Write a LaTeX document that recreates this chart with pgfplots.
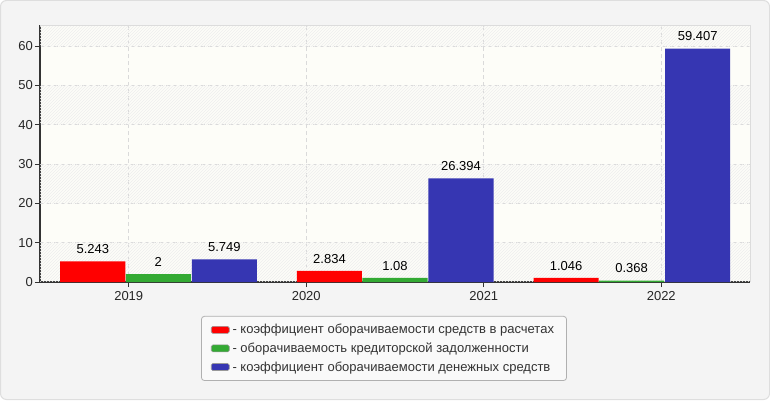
\documentclass[border=0pt]{standalone}
\usepackage{pgfplots}
\pgfplotsset{compat=1.18}
\usepackage{fontspec}
\setmainfont{Liberation Sans}
\usetikzlibrary{patterns}
\definecolor{outerbg}{HTML}{F4F4F4}
\definecolor{outerborder}{HTML}{DEDEDE}
\definecolor{plotbg}{HTML}{FDFDF8}
\definecolor{hatch}{HTML}{EEEEEE}
\definecolor{gridc}{HTML}{DADADA}
\definecolor{axisdark}{HTML}{333333}
\definecolor{axislight}{HTML}{DCDCDC}
\definecolor{cred}{HTML}{FF0000}
\definecolor{cgreen}{HTML}{33AA33}
\definecolor{cblue}{HTML}{3636B2}
\definecolor{legbg}{HTML}{F9F9F9}
\definecolor{legborder}{HTML}{B0B0B0}
\begin{document}
\begin{tikzpicture}[x=1pt,y=1pt]
\useasboundingbox (0,0) rectangle (770,400);
\fill[outerbg, draw=outerborder, line width=1pt, rounded corners=6pt] (0.5,0.5) rectangle (769.5,399.5);
\begin{axis}[
  at={(40pt,118pt)}, anchor=south west,
  width=710pt, height=257pt, scale only axis,
  xmin=-0.5, xmax=2.5, ymin=0, ymax=65.4,
  axis lines=left,
  axis line style={-, draw=axisdark, line width=1.2pt},
  axis background/.style={fill=plotbg},
  xtick={-0.125,0.625,1.375,2.125},
  xticklabels={2019,2020,2021,2022},
  ytick={0,10,20,30,40,50,60},
  tick align=outside,
  major tick length=5pt,
  tick style={draw=axisdark, line width=0.8pt},
  grid=major,
  grid style={dashed, draw=gridc, line width=0.8pt, dash pattern=on 4pt off 3pt},
  ticklabel style={font=\fontsize{13pt}{15pt}\selectfont, text=black!85},
  /pgf/number format/assume math mode=true,
  yticklabel style={inner xsep=2pt},
  xticklabel style={yshift=-1pt},
  clip=false,
  legend style={at={(0.4845,-0.132)}, anchor=north, draw=legborder, fill=legbg,
    rounded corners=3pt, font=\fontsize{13pt}{15pt}\selectfont, text=black!80,
    inner xsep=9.5pt, inner ysep=6pt, row sep=3.5pt, line width=0.8pt,
    nodes={inner xsep=3pt}},
  legend cell align=left,
  legend image code/.code={\draw[#1, draw=gray!80, line width=0.6pt, rounded corners=1.5pt] (0pt,-3.5pt) rectangle (18pt,3.5pt);},
  every node near coord/.append style={font=\fontsize{13pt}{15pt}\selectfont, text=black, yshift=4pt},
]
% background bands
\fill[pattern=north east lines, pattern color=hatch] (axis cs:-0.5,0.2) rectangle (axis cs:2.5,10);
\fill[pattern=north east lines, pattern color=hatch] (axis cs:-0.5,20) rectangle (axis cs:2.5,30);
\fill[pattern=north east lines, pattern color=hatch] (axis cs:-0.5,40) rectangle (axis cs:2.5,50);
\fill[pattern=north east lines, pattern color=hatch] (axis cs:-0.5,60) rectangle (axis cs:2.5,65.4);
\draw[axislight, line width=1pt] (rel axis cs:0,1) -- (rel axis cs:1,1) -- (rel axis cs:1,0);

\addplot[ybar, bar width=0.275, bar shift=-0.277, fill=cred, draw=none,
  nodes near coords, point meta=explicit symbolic,
  every node near coord/.append style={xshift=-65.5pt}]
  coordinates {(0,5.243) [5.243] (1,2.834) [2.834] (2,1.046) [1.046]};
\addlegendentry{- коэффициент оборачиваемости средств в расчетах}
\addplot[ybar, bar width=0.275, bar shift=0, fill=cgreen, draw=none,
  nodes near coords, point meta=explicit symbolic]
  coordinates {(0,2) [2] (1,1.08) [1.08] (2,0.368) [0.368]};
\addlegendentry{- оборачиваемость кредиторской задолженности}
\addplot[ybar, bar width=0.275, bar shift=0.279, fill=cblue, draw=none,
  nodes near coords, point meta=explicit symbolic,
  every node near coord/.append style={xshift=66pt}]
  coordinates {(0,5.749) [5.749] (1,26.394) [26.394] (2,59.407) [59.407]};
\addlegendentry{- коэффициент оборачиваемости денежных средств}
\end{axis}
\end{tikzpicture}
\end{document}
